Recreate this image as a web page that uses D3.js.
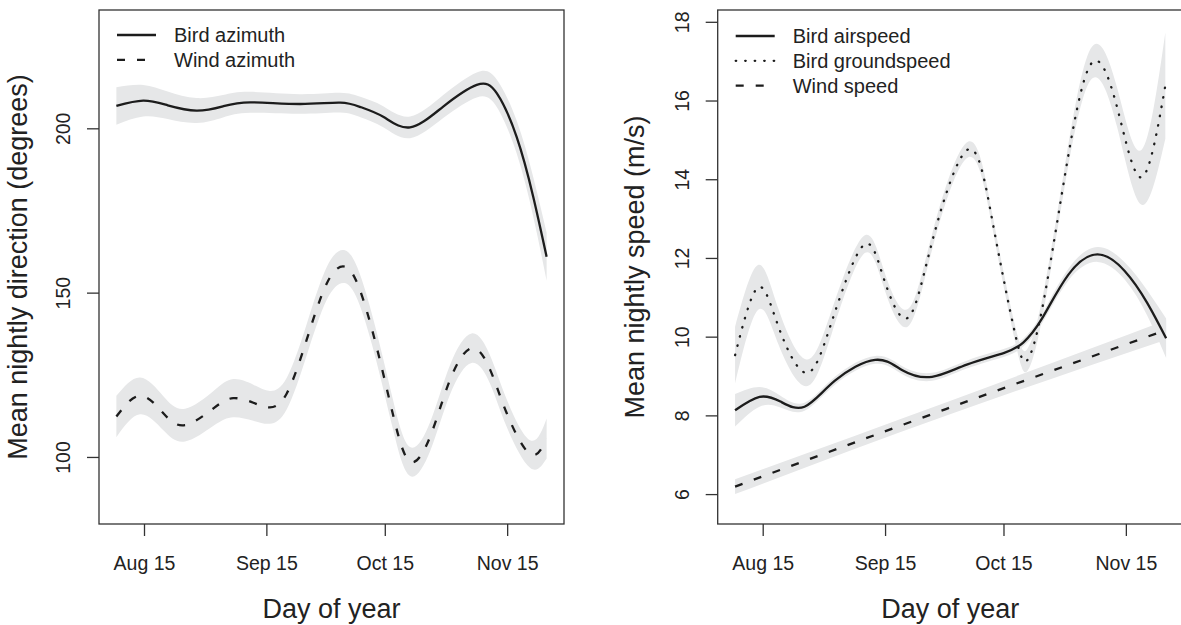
<!DOCTYPE html>
<html>
<head>
<meta charset="utf-8">
<script src="https://cdn.jsdelivr.net/npm/d3@7"></script>
<style>
  body { margin: 0; background: #fff; }
  text { font-family: "Liberation Sans", Arial, Helvetica, sans-serif; fill: #222; }
</style>
</head>
<body>
<div id="chart"></div>
<script>
// x axis (day of year)
const tickDays = [227, 258, 288, 319];
const tickLabels = ["Aug 15", "Sep 15", "Oct 15", "Nov 15"];

// left panel: direction (degrees)
const dirTicks = [100, 150, 200];
const birdAzDay = [220, 226.8, 233, 240.3, 247, 253.9, 266.5, 276.7, 282, 287.6, 294.4, 302.8, 311.3, 316.4, 321.4, 325.6, 329];
const birdAzVal = [206.8, 208.4, 207.0, 205.4, 206.7, 207.9, 207.4, 207.8, 206.4, 203.5, 200.3, 206.6, 213.2, 210.6, 197.4, 179.2, 160.9];
const birdAzSe  = [5.7, 4.8, 4.2, 3.8, 3.4, 3.2, 3.0, 3.0, 3.1, 3.2, 3.3, 3.5, 3.8, 4.2, 5.0, 6.0, 7.3];

const windAzDay = [220, 226, 231.9, 237.4, 244.6, 249.6, 254.7, 258.9, 263.2, 268.2, 273.3, 277.9, 281.7, 285.9, 290.2, 294.4, 299.5, 304.5, 310, 314.7, 318.9, 324.8, 329];
const windAzVal = [112.3, 118.6, 113.3, 109.7, 114.8, 117.9, 116.5, 115.1, 119.4, 135.6, 152.8, 157.9, 150.8, 133.6, 112.3, 98.6, 106.2, 123.4, 133.1, 126.5, 113.3, 100.9, 105.6];
const windAzSe  = [6.3, 5.6, 5.2, 5.0, 5.3, 5.8, 5.5, 5.0, 4.8, 4.8, 5.0, 5.0, 4.8, 4.6, 4.5, 4.4, 4.4, 4.5, 4.5, 4.3, 4.2, 4.2, 6.1];

// right panel: speed (m/s)
const speedTicks = [6, 8, 10, 12, 14, 16, 18];
const airDay = [220, 226.2, 231.5, 237.6, 245.3, 255.5, 262.5, 269.9, 278.7, 288.2, 293, 297.7, 304.4, 311.8, 318.7, 324.4, 329.2];
const airVal = [8.13, 8.47, 8.35, 8.22, 8.88, 9.41, 9.14, 8.98, 9.29, 9.59, 9.85, 10.45, 11.57, 12.09, 11.67, 10.86, 9.96];
const airSe  = [0.41, 0.25, 0.15, 0.1, 0.1, 0.1, 0.1, 0.1, 0.1, 0.1, 0.1, 0.12, 0.15, 0.19, 0.22, 0.32, 0.5];

const groundDay = [220, 225.8, 231, 238, 244.4, 252.4, 257.7, 263.8, 270.1, 279.1, 285.3, 291, 294, 297.7, 303.4, 310.1, 316.8, 323, 329];
const groundVal = [9.53, 11.25, 10.25, 9.08, 10.35, 12.31, 11.47, 10.48, 12.48, 14.76, 12.88, 10.05, 9.40, 10.66, 14.0, 16.92, 15.82, 14.05, 16.38];
const groundSe  = [0.72, 0.57, 0.45, 0.34, 0.3, 0.23, 0.22, 0.22, 0.2, 0.2, 0.18, 0.2, 0.28, 0.25, 0.25, 0.4, 0.5, 0.7, 1.35];

const windSpDay = [220, 273.4, 329.2];
const windSpVal = [6.19, 8.16, 10.17];
const windSpSe  = [0.19, 0.17, 0.25];

const W = 1181, H = 625;
const svg = d3.select("#chart").append("svg")
    .attr("width", W).attr("height", H);

const ink = "#1c1c1c";
const bandFill = "#e6e7e8";

function series(day, val, se) {
    return day.map((d, i) => ({ day: d, val: val[i], se: se[i] }));
}

function drawPanel(opts) {
    const box = opts.box;
    const x = d3.scaleLinear().domain([215.6, 333.4]).range([box.left, box.left + 465]);
    const y = d3.scaleLinear().domain(opts.yDomain).range([box.bottom, box.top]);
    const g = svg.append("g");

    const clipId = "clip" + opts.id;
    svg.append("clipPath").attr("id", clipId)
        .append("rect")
        .attr("x", box.left).attr("y", box.top)
        .attr("width", 465).attr("height", box.bottom - box.top);

    const plot = g.append("g").attr("clip-path", `url(#${clipId})`);
    const curve = d3.curveNatural;

    const area = d3.area()
        .x(d => x(d.day))
        .y0(d => y(d.val - d.se))
        .y1(d => y(d.val + d.se))
        .curve(curve);
    const line = d3.line()
        .x(d => x(d.day))
        .y(d => y(d.val))
        .curve(curve);

    opts.series.forEach(s => {
        plot.append("path").attr("d", area(s.data))
            .attr("fill", bandFill).attr("stroke", "none");
    });
    opts.series.forEach(s => {
        plot.append("path").attr("d", line(s.data))
            .attr("fill", "none")
            .attr("stroke", ink)
            .attr("stroke-width", 2.3)
            .attr("stroke-dasharray", s.dash)
            .attr("stroke-linecap", s.cap);
    });

    // box
    g.append("rect")
        .attr("x", box.left).attr("y", box.top)
        .attr("width", 465).attr("height", box.bottom - box.top)
        .attr("fill", "none").attr("stroke", "#333").attr("stroke-width", 1.3);

    // x axis
    const xAxis = g.append("g")
        .attr("transform", `translate(0,${box.bottom})`)
        .call(d3.axisBottom(x).tickValues(tickDays)
            .tickFormat((d, i) => tickLabels[i]).tickSize(12));
    xAxis.select(".domain").remove();
    xAxis.selectAll(".tick line").attr("stroke", "#333").attr("stroke-width", 1.3);
    xAxis.selectAll(".tick text")
        .attr("y", 46).attr("dy", null)
        .style("font-size", "19.5px").attr("fill", "#222");

    // y axis
    const yAxis = g.append("g")
        .attr("transform", `translate(${box.left},0)`)
        .call(d3.axisLeft(y).tickValues(opts.yTicks).tickSize(12));
    yAxis.select(".domain").remove();
    yAxis.selectAll(".tick line").attr("stroke", "#333").attr("stroke-width", 1.3);
    yAxis.selectAll(".tick text")
        .attr("x", null).attr("dy", null)
        .attr("text-anchor", "middle")
        .attr("transform", "translate(-29,0) rotate(-90)")
        .style("font-size", "19.5px").attr("fill", "#222");

    // axis titles
    g.append("text")
        .attr("x", box.left + 465 / 2).attr("y", 618)
        .attr("text-anchor", "middle")
        .style("font-size", "27px")
        .text("Day of year");
    g.append("text")
        .attr("transform", `translate(${opts.yTitleX},${(box.top + box.bottom) / 2}) rotate(-90)`)
        .attr("text-anchor", "middle")
        .style("font-size", "27px")
        .text(opts.yTitle);

    // legend
    const lg = g.append("g");
    opts.series.forEach((s, i) => {
        const ly = opts.legendY + i * 24.8;
        lg.append("line")
            .attr("x1", box.left + 18).attr("x2", box.left + 57)
            .attr("y1", ly).attr("y2", ly)
            .attr("stroke", ink).attr("stroke-width", 2.3)
            .attr("stroke-dasharray", s.dash)
            .attr("stroke-linecap", s.cap);
        lg.append("text")
            .attr("x", box.left + 75).attr("y", ly + 7)
            .style("font-size", "20px")
            .text(s.name);
    });
}

drawPanel({
    id: "L",
    box: { left: 99, top: 10, bottom: 524 },
    yDomain: [79.6, 236.0],
    yTicks: dirTicks,
    yTitle: "Mean nightly direction (degrees)",
    yTitleX: 27,
    legendY: 35,
    series: [
        { name: "Bird azimuth", data: series(birdAzDay, birdAzVal, birdAzSe), dash: null, cap: "butt" },
        { name: "Wind azimuth", data: series(windAzDay, windAzVal, windAzSe), dash: "8,12", cap: "butt" }
    ]
});

drawPanel({
    id: "R",
    box: { left: 717.7, top: 10, bottom: 524 },
    yDomain: [5.24, 18.3],
    yTicks: speedTicks,
    yTitle: "Mean nightly speed (m/s)",
    yTitleX: 644,
    legendY: 36,
    series: [
        { name: "Bird airspeed", data: series(airDay, airVal, airSe), dash: null, cap: "butt" },
        { name: "Bird groundspeed", data: series(groundDay, groundVal, groundSe), dash: "0.5,9", cap: "round" },
        { name: "Wind speed", data: series(windSpDay, windSpVal, windSpSe), dash: "8,12", cap: "butt" }
    ]
});
</script>
</body>
</html>
